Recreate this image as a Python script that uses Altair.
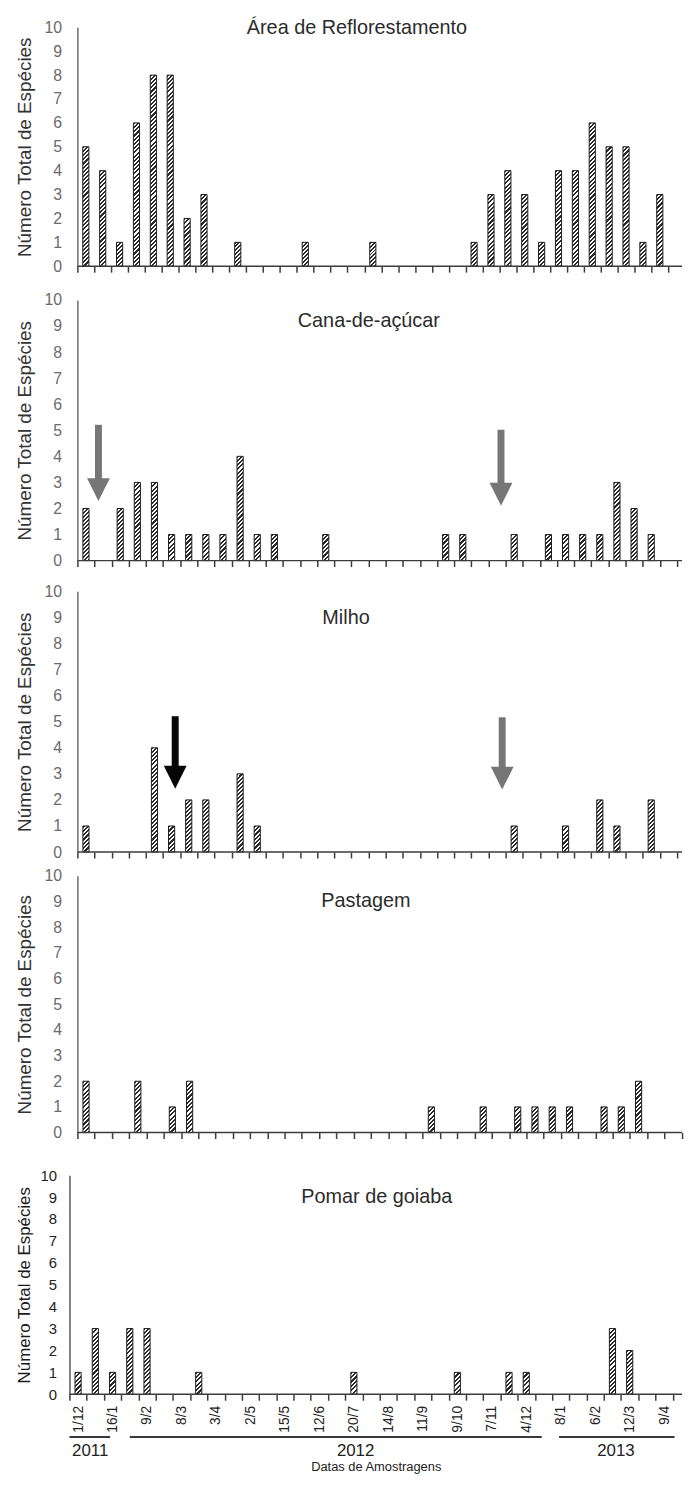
import altair as alt
import pandas as pd

# ---------------- data ----------------
date_labels = ["1/12", "16/1", "9/2", "8/3", "3/4", "2/5", "15/5", "12/6", "20/7",
               "14/8", "11/9", "9/10", "7/11", "4/12", "8/1", "6/2", "12/3", "9/4"]

panel_titles = ["Área de Reflorestamento", "Cana-de-açúcar", "Milho", "Pastagem", "Pomar de goiaba"]
y_titles = ["Número Total de  Espécies", "Número Total de Espécies", "Número Total de Espécies",
            "Número Total de Espécies", "Número Total de Espécies"]

refl_idx = [0, 1, 2, 3, 4, 5, 6, 7, 9, 13, 17, 23, 24, 25, 26, 27, 28, 29, 30, 31, 32, 33, 34]
refl_val = [5, 4, 1, 6, 8, 8, 2, 3, 1, 1, 1, 1, 3, 4, 3, 1, 4, 4, 6, 5, 5, 1, 3]

cana_idx = [0, 2, 3, 4, 5, 6, 7, 8, 9, 10, 11, 14, 21, 22, 25, 27, 28, 29, 30, 31, 32, 33]
cana_val = [2, 2, 3, 3, 1, 1, 1, 1, 4, 1, 1, 1, 1, 1, 1, 1, 1, 1, 1, 3, 2, 1]

milho_idx = [0, 4, 5, 6, 7, 9, 10, 25, 28, 30, 31, 33]
milho_val = [1, 4, 1, 2, 2, 3, 1, 1, 1, 2, 1, 2]

past_idx = [0, 3, 5, 6, 20, 23, 25, 26, 27, 28, 30, 31, 32]
past_val = [2, 2, 1, 2, 1, 1, 1, 1, 1, 1, 1, 1, 2]

pomar_idx = [0, 1, 2, 3, 4, 7, 16, 22, 25, 26, 31, 32]
pomar_val = [1, 3, 1, 3, 3, 1, 1, 1, 1, 1, 3, 2]

# arrows (panel index, x position in category units, y values)
arrow_panel = [1, 1, 2, 2]
arrow_x = [1.23, 24.73, 5.71, 24.8]
arrow_top = [5.21, 5.02, 5.21, 5.17]
arrow_head = [3.16, 3.0, 3.31, 3.27]
arrow_tip = [2.28, 2.09, 2.43, 2.40]
arrow_color = ["#767676", "#767676", "#050505", "#767676"]

# year brackets under the date axis
year_names = ["2011", "2012", "2013"]
year_x1 = [0.0, 3.5, 28.4]
year_x2 = [2.36, 27.4, 35.1]
year_mid = [1.2, 16.6, 31.7]

# ---------------- style ----------------
FONT = "Liberation Sans"
DARK = "#2a2a2a"
LIGHT = "#ffffff"
BAR_PX = 6.2
PLOT_W = 618          # page x 70 .. 688
SHIFT = 8             # panels 1-4 have their y axis 8px right of panel 5's
LEFT_EXT = 62         # 8px page margin + 62 = 70
PAD = {"left": 0, "top": -6, "right": 0, "bottom": 0}

# step = pixels per sampling date
panels = [
    dict(idx=refl_idx, val=refl_val, step=17.03, shift=SHIFT, h=241, top=19, tx=290, ty=1),
    dict(idx=cana_idx, val=cana_val, step=17.28, shift=SHIFT, h=263, top=26, tx=302, ty=21),
    dict(idx=milho_idx, val=milho_val, step=17.28, shift=SHIFT, h=263, top=23, tx=279, ty=27),
    dict(idx=past_idx, val=past_val, step=17.42, shift=SHIFT, h=259, top=16, tx=299, ty=25),
    dict(idx=pomar_idx, val=pomar_val, step=17.39, shift=0, h=221, top=35, tx=310, ty=22),
]


def hatch(w_px, h_px, pitch=4.2):
    a = w_px / h_px
    m = max(2, round(h_px / pitch))
    s = (a + 1) / (a * a + 1)
    n = m * (a + 1)
    stops = []
    k = 0
    while k / n < 1:
        t0 = k / n
        tm = min((k + 0.5) / n, 1.0)
        t1 = min((k + 1) / n, 1.0)
        stops += [dict(offset=round(t0, 5), color=DARK), dict(offset=round(tm, 5), color=DARK),
                  dict(offset=round(tm, 5), color=LIGHT), dict(offset=round(t1, 5), color=LIGHT)]
        k += 1
    return dict(gradient="linear", x1=0, y1=0, x2=round(a * s, 5), y2=round(s, 5), stops=stops)


one = pd.DataFrame({"a": [0]})
lab_js = "[" + ",".join("'" + l + "'" for l in date_labels) + "]"
label_expr = "(datum.value % 2 == 0 && datum.value < 36) ? " + lab_js + "[datum.value / 2] : ''"


def make_panel(pi):
    p = panels[pi]
    last = pi == 4
    step = p["step"]
    d0 = -p["shift"] / step
    d1 = d0 + PLOT_W / step
    ticks = [t for t in range(37) if d0 <= t <= d1]
    hw = BAR_PX / 2 / step
    xs = alt.Scale(domain=[d0, d1], nice=False, zero=False)
    ys = alt.Scale(domain=[0, 10], nice=False, zero=False)

    if last:
        xaxis = alt.Axis(values=ticks, domain=False, ticks=True, tickSize=6, tickColor="#3c3c3c",
                         tickWidth=1.5, grid=False, labelExpr=label_expr,
                         labelAngle=270, labelAlign="right", labelBaseline="middle",
                         labelOffset=step / 2, labelPadding=5, labelFontSize=14, labelColor="#222222",
                         labelFlush=False, labelOverlap=False,
                         title="Datas de Amostragens", titleFontSize=13, titleFontWeight="normal",
                         titleColor="#222222", titlePadding=29)
        yaxis = alt.Axis(values=list(range(11)), ticks=False, grid=False, domainColor="#5a5a5a", domainWidth=1.5,
                         labelFontSize=15, labelColor="#222222", labelPadding=13,
                         title=y_titles[pi], titleFontSize=17, titleColor="#1a1a1a", titleFontWeight="normal",
                         titlePadding=7)
    else:
        xaxis = alt.Axis(values=ticks, labels=False, title=None, grid=False, ticks=True, tickSize=6,
                         tickColor="#3c3c3c", tickWidth=1.5, domain=False)
        yaxis = alt.Axis(values=list(range(11)), ticks=False, grid=False, domainColor="#6e6e6e", domainWidth=1.5,
                         labelFontSize=16, labelColor="#6b6b6b", labelPadding=16,
                         title=y_titles[pi], titleFontSize=19, titleColor="#333333", titleFontWeight="normal",
                         titlePadding=10, offset=-p["shift"])

    df = pd.DataFrame({"i": p["idx"], "v": p["val"]})
    layers = []
    for v in sorted(set(p["val"])):
        layer = alt.Chart(df).transform_filter("datum.v == " + str(v)).transform_calculate(
            xa="datum.i + 0.5 - " + str(hw), xb="datum.i + 0.5 + " + str(hw), z="0"
        ).mark_rect(fill=hatch(BAR_PX, v * p["h"] / 10.0), stroke="#1c1c1c", strokeWidth=1).encode(
            x=alt.X("xa:Q", scale=xs, axis=xaxis),
            x2="xb",
            y=alt.Y("v:Q", scale=ys, axis=yaxis),
            y2="z",
        )
        layers.append(layer)

    # x axis line starting at the y axis
    axis_line = alt.Chart(one).mark_rule(color="#3c3c3c", strokeWidth=1.5).encode(
        x=alt.XDatum(0, type="quantitative", scale=xs, axis=xaxis),
        x2=alt.X2Datum(d1),
        y=alt.YDatum(0, type="quantitative", scale=ys, axis=yaxis),
    )
    layers.append(axis_line)

    # arrows
    a_rows = [dict(x=arrow_x[k], top=arrow_top[k], head=arrow_head[k] - 0.08,
                   mid=(arrow_head[k] + arrow_tip[k]) / 2, c=arrow_color[k])
              for k in range(len(arrow_x)) if arrow_panel[k] == pi]
    if a_rows:
        adf = pd.DataFrame(a_rows)
        shaft = alt.Chart(adf).mark_rule(strokeWidth=7, strokeCap="butt").encode(
            x=alt.X("x:Q", scale=xs, axis=xaxis),
            y=alt.Y("top:Q", scale=ys, axis=yaxis),
            y2="head",
            color=alt.Color("c:N", scale=None, legend=None),
        )
        head = alt.Chart(adf).mark_point(shape="M-1,-1L1,-1L0,1Z", filled=True, size=529, opacity=1,
                                         strokeWidth=0).encode(
            x=alt.X("x:Q", scale=xs, axis=xaxis),
            y=alt.Y("mid:Q", scale=ys, axis=yaxis),
            color=alt.Color("c:N", scale=None, legend=None),
        )
        layers += [shaft, head]

    if last:
        ydf = pd.DataFrame({"name": year_names, "x1": year_x1, "x2": year_x2, "mid": year_mid})
        yrule = alt.Chart(ydf).mark_rule(color="#3a3a3a", strokeWidth=2).encode(
            x=alt.X("x1:Q", scale=xs, axis=xaxis), x2="x2", y=alt.value(264))
        ytext = alt.Chart(ydf).mark_text(fontSize=17, font=FONT, color="#222222", baseline="middle").encode(
            x=alt.X("mid:Q", scale=xs, axis=xaxis), y=alt.value(278), text="name:N")
        layers += [yrule, ytext]

    title = alt.Chart(one).mark_text(text=panel_titles[pi], fontSize=20, font=FONT, color="#2b2b2b",
                                     align="center", baseline="middle").encode(
        x=alt.value(p["tx"]), y=alt.value(p["ty"]))
    bound = alt.Chart(one).mark_rule(opacity=0).encode(
        x=alt.value(-LEFT_EXT), y=alt.value(-p["top"]), y2=alt.value(p["h"] + 8 if not last else 0))
    layers += [title, bound]

    return alt.layer(*layers).properties(width=PLOT_W, height=p["h"])


chart = alt.vconcat(*[make_panel(i) for i in range(5)], spacing=0).properties(
    padding=PAD
).configure(font=FONT, background="white", padding=PAD).configure_view(stroke=None)

chart.save("out.html", embed_options={"renderer": "svg", "actions": False})
